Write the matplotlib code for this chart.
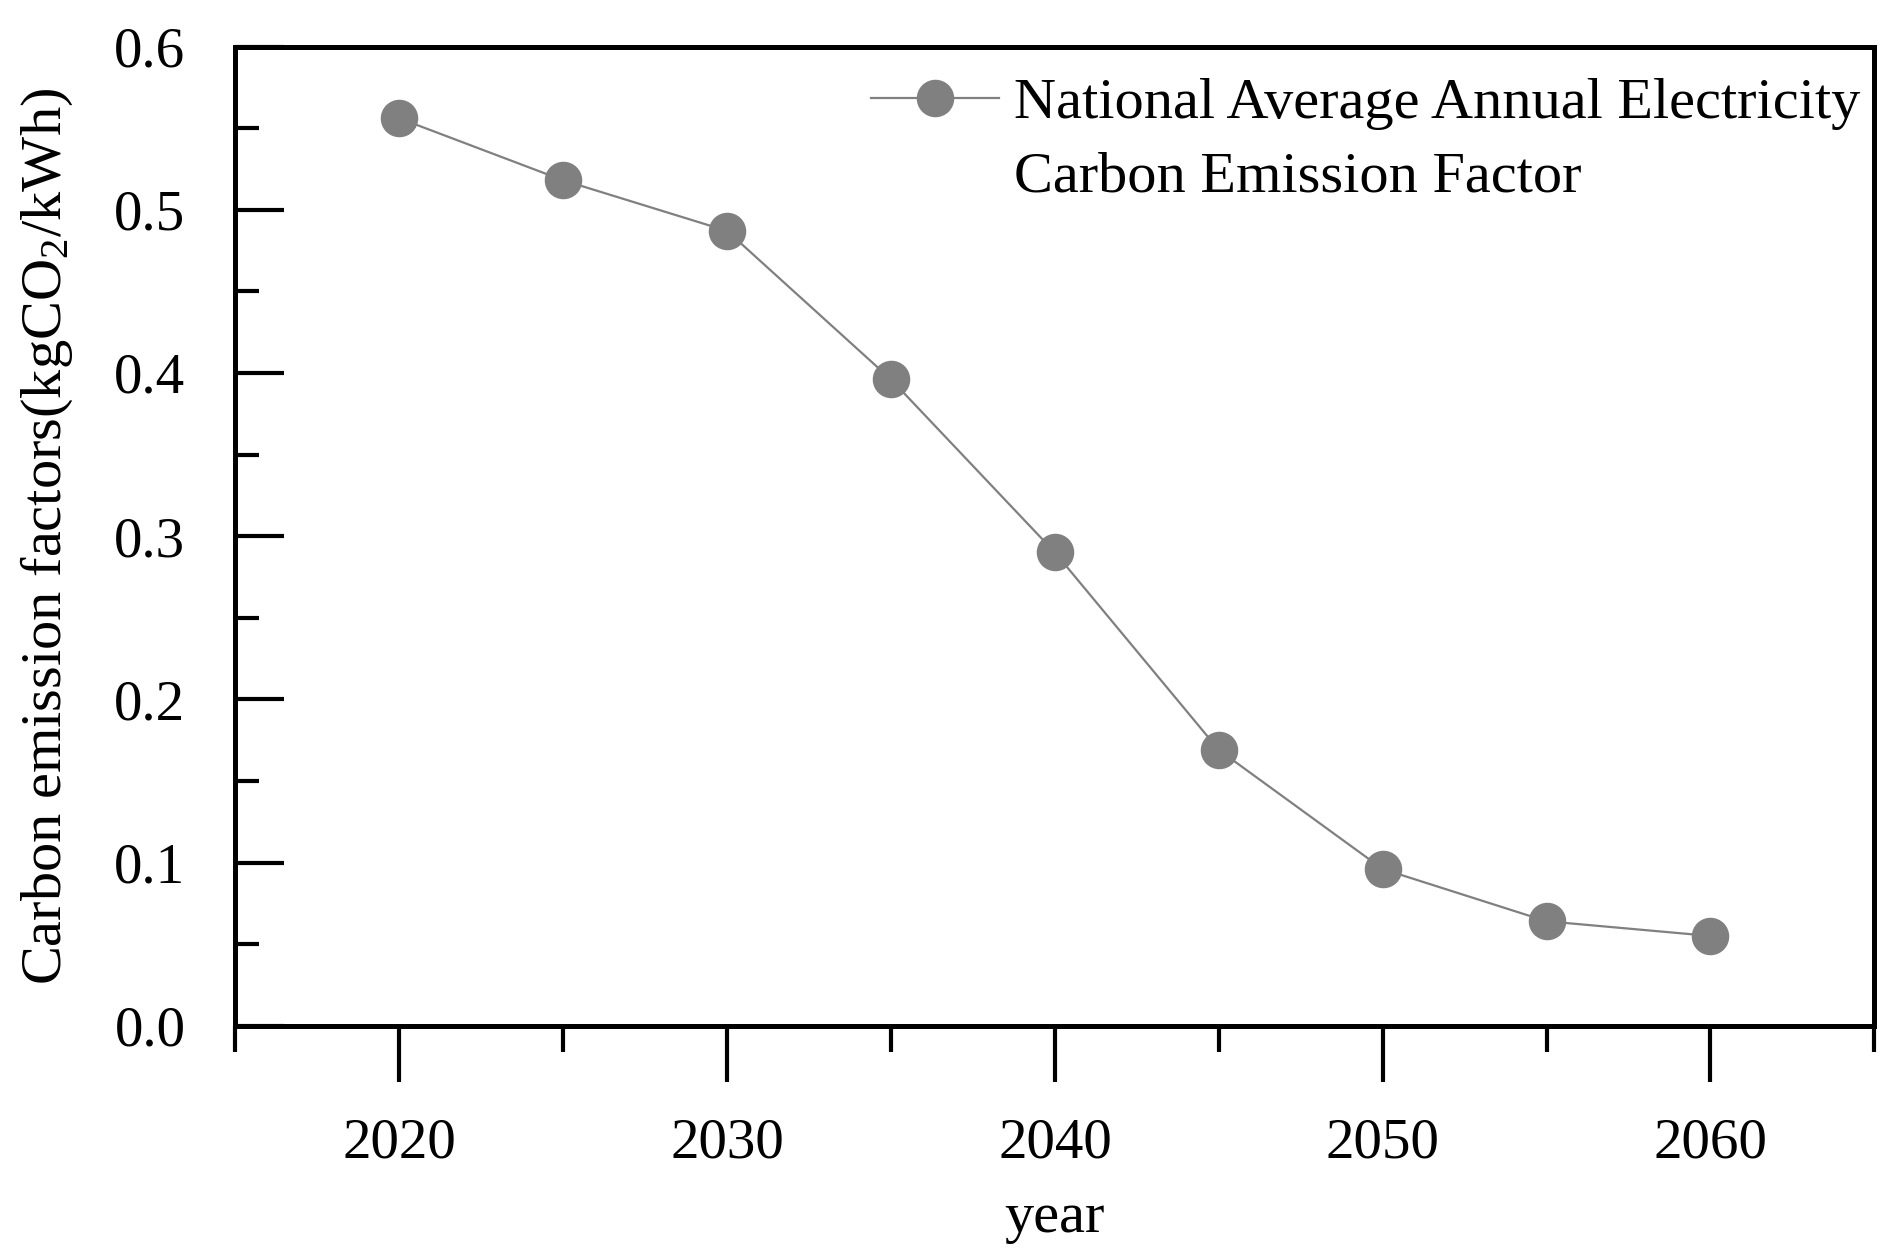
import numpy as np
import matplotlib
matplotlib.use("Agg")
import matplotlib.pyplot as plt
from matplotlib.ticker import MultipleLocator
from matplotlib.lines import Line2D

# data
years = [2020, 2025, 2030, 2035, 2040, 2045, 2050, 2055, 2060]
factors = [0.556, 0.518, 0.487, 0.396, 0.290, 0.169, 0.096, 0.064, 0.055]
label_lines = ["National Average Annual Electricity", "Carbon Emission Factor"]
x_label = "year"
y_label = r"Carbon emission factors(kgCO$_2$/kWh)"

plt.rcParams['font.family'] = ['Liberation Serif', 'DejaVu Serif']
plt.rcParams['mathtext.fontset'] = 'custom'
plt.rcParams['mathtext.rm'] = 'Liberation Serif'
plt.rcParams['mathtext.it'] = 'Liberation Serif'

fig = plt.figure(figsize=(18.99, 12.57), dpi=100)
ax = fig.add_axes([0.124, 0.184, 0.863, 0.779])

line, = ax.plot(years, factors, color="#808080", lw=1.6, marker="o", ms=26,
                markerfacecolor="#808080", markeredgecolor="#808080")

ax.set_xlim(2015, 2065)
ax.set_ylim(0, 0.6)
ax.xaxis.set_major_locator(MultipleLocator(10))
ax.xaxis.set_minor_locator(MultipleLocator(5))
ax.yaxis.set_major_locator(MultipleLocator(0.1))
ax.yaxis.set_minor_locator(MultipleLocator(0.05))
ax.yaxis.set_major_formatter(matplotlib.ticker.FormatStrFormatter("%.1f"))

for s in ax.spines.values():
    s.set_linewidth(3.6)

ax.tick_params(axis="x", which="major", direction="out", length=40, width=3, pad=26, labelsize=41)
ax.tick_params(axis="x", which="minor", direction="out", length=19, width=3)
ax.tick_params(axis="y", which="major", direction="in", length=35, width=3, pad=36, labelsize=41)
ax.tick_params(axis="y", which="minor", direction="in", length=17, width=3)

ax.set_xlabel(x_label, fontsize=42, labelpad=16)
ax.set_ylabel(y_label, fontsize=42, labelpad=28)

# marker sits on the first line of the label, second line has no handle
blank = Line2D([], [], color="none")
ax.legend([line, blank], label_lines, loc="upper right", bbox_to_anchor=(1.0, 0.983),
          frameon=False, fontsize=42, handlelength=2.2, handletextpad=0.25,
          borderaxespad=0, labelspacing=0.35, borderpad=0.24)

fig.savefig("out.png", dpi=100)
